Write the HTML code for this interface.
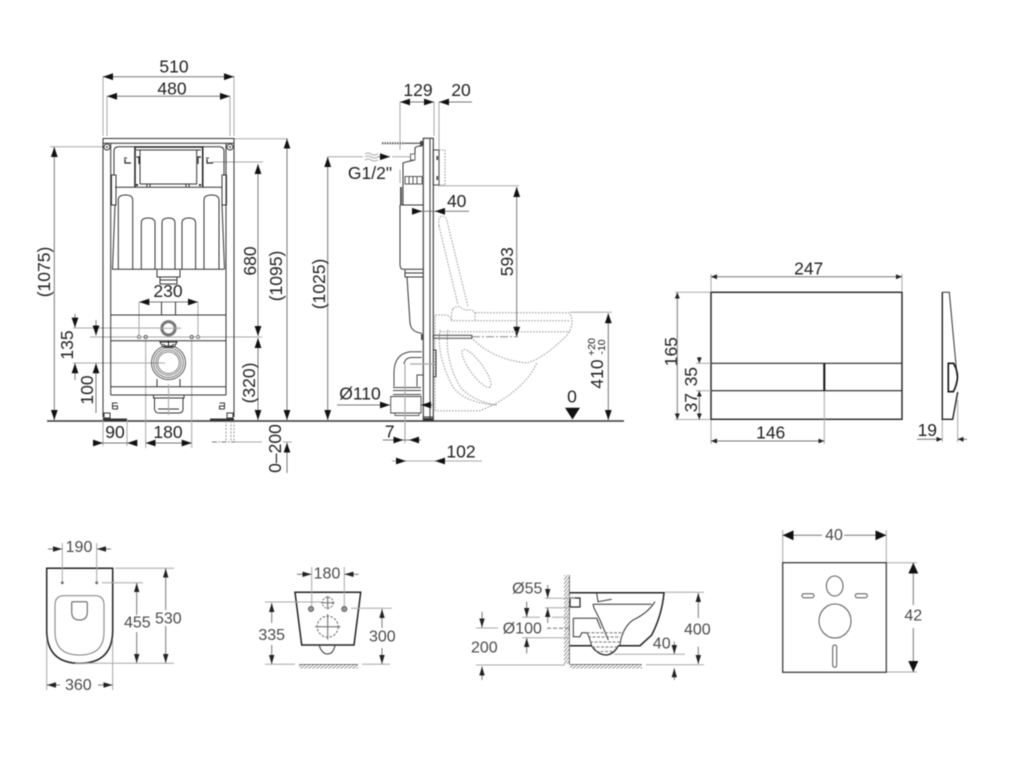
<!DOCTYPE html>
<html><head><meta charset="utf-8"><title>Installation diagram</title>
<style>
html,body{margin:0;padding:0;background:#fff;width:1024px;height:758px;overflow:hidden}
svg{display:block;filter:blur(.4px)}
text{font-family:"Liberation Sans",sans-serif;font-size:17.5px;fill:#222;text-anchor:middle}
.g text,text.g{fill:#4a4a4a;font-size:16px}
.e{stroke:#a8a8a8;stroke-width:1;fill:none}
.d{stroke:#777;stroke-width:1;fill:none}
.l{stroke:#333;stroke-width:1;fill:none}
.b{stroke:#1c1c1c;stroke-width:1.5;fill:none}
.f{stroke:#999;stroke-width:1;fill:none;stroke-dasharray:1.6 1.4}
.h{stroke:#999;stroke-width:1;fill:none;stroke-dasharray:2 1.5}
.m{stroke:#777;stroke-width:1;fill:none;marker-end:url(#a)}
.s{stroke:#777;stroke-width:1;fill:none;marker-end:url(#s)}
.n{stroke:#777;stroke-width:1;fill:none;marker-end:url(#n)}
.c{stroke:#777;stroke-width:1;fill:none;marker-end:url(#c)}
</style></head>
<body>
<svg width="1024" height="758" viewBox="0 0 1024 758" xmlns="http://www.w3.org/2000/svg">
<defs>
<marker id="a" markerUnits="userSpaceOnUse" markerWidth="10" markerHeight="8" refX="10" refY="4" orient="auto-start-reverse"><path d="M0 .6L10 4L0 7.4z" fill="#111"/></marker>
<marker id="s" markerUnits="userSpaceOnUse" markerWidth="6" markerHeight="6" refX="6" refY="3" orient="auto-start-reverse"><path d="M0 .5L6 3L0 5.5z" fill="#222"/></marker>
<marker id="n" markerUnits="userSpaceOnUse" markerWidth="9" markerHeight="6" refX="9" refY="3" orient="auto-start-reverse"><path d="M0 .3L9 3L0 5.7z" fill="#222"/></marker>
<marker id="c" markerUnits="userSpaceOnUse" markerWidth="11" markerHeight="10" refX="11" refY="5" orient="auto-start-reverse"><path d="M0 0L11 5L0 10z" fill="#111"/></marker>
<pattern id="hx" width="3" height="4" patternUnits="userSpaceOnUse"><path d="M3 0L0 4" stroke="#777" stroke-width=".8"/></pattern>
<pattern id="hy" width="4" height="3" patternUnits="userSpaceOnUse"><path d="M4 0L0 3" stroke="#777" stroke-width=".8"/></pattern>
</defs>
<rect width="1024" height="758" fill="#fff"/>

<!-- ground -->
<path d="M47 421H624" stroke="#333" stroke-width="1.4" fill="none"/>

<!-- FIG 1: frame front -->
<g>
<path class="e" d="M103 76V136M107 96V136M230 96V136M234 76V136"/>
<path class="m" d="M168 76.7H103"/><path class="m" d="M168 76.7H234"/>
<path class="m" d="M168 96.3H107"/><path class="m" d="M168 96.3H230"/>
<text x="174" y="72.7">510</text><text x="172" y="94.3">480</text>

<path class="e" d="M50 146.7H104M234 138.7H288M212 162H263M90 337H262M73 328H160M178 328H180M73 363H165"/>
<path class="m" d="M54.3 280V147"/><path class="m" d="M54.3 280V420"/>
<path class="m" d="M258 250V164"/><path class="m" d="M258 250V336"/><path class="m" d="M258 380V338"/><path class="m" d="M258 380V420"/>
<path class="m" d="M287 300V138.7"/><path class="m" d="M287 300V420"/>
<text transform="translate(50 272) rotate(-90)">(1075)</text>
<text transform="translate(256 261) rotate(-90)">680</text>
<text transform="translate(282 276) rotate(-90)">(1095)</text>
<text transform="translate(255 383) rotate(-90)">(320)</text>

<text x="168" y="297">230</text>
<path class="e" d="M139 302V337M198 302V337"/>
<path class="m" d="M168 302H139.3"/><path class="m" d="M168 302H198"/>

<path class="m" d="M75 314V327.6"/><path class="m" d="M75 380V363.3"/>
<path class="m" d="M96 320V335.5"/><path class="m" d="M96 413V363.3"/>
<text transform="translate(73 345) rotate(-90)">135</text>
<text transform="translate(93 390) rotate(-90)">100</text>

<path class="e" d="M103 414V446M127 420V446M145.7 340V448M191.7 340V448"/>
<path class="d" d="M103 443H127"/><path class="m" d="M93 443H103"/><path class="m" d="M137.3 443H127.3"/>
<path class="m" d="M168 443H145.7"/><path class="m" d="M168 443H191.7"/>
<text x="115" y="438">90</text><text x="168" y="438">180</text>

<path class="h" d="M226 421V442M231 421V442M234 421V442"/>
<path stroke="#777" fill="none" stroke-dasharray="5 1.5 1.5 1.5" d="M212 442H235"/>
<path class="e" d="M235 442H262M283 442H292"/>
<path class="m" d="M287 473V442.7"/>
<text transform="translate(281 448.5) rotate(-90)">0–200</text>

<!-- frame -->
<path class="l" d="M103 417V138.5H234V417M110.7 395V143.3M226 395V143.3M103 143.3H234"/>
<path class="l" d="M104 413H110V418H104zM227 413H233V418H227z"/>
<path stroke="#333" stroke-width="2" fill="none" d="M103 419.5H127M210 419.5H234"/>
<path class="l" d="M112.5 409V403H117.5M112.5 406H117.5V409H112.5M224.5 409V403H219.5M224.5 406H219.5V409H224.5"/>
<circle cx="107" cy="147" r="3" class="l"/><circle cx="107" cy="147" r="1" fill="#444"/>
<circle cx="230" cy="147" r="3" class="l"/><circle cx="230" cy="147" r="1" fill="#444"/>
<path class="l" d="M114 175V151Q114 146.7 119 146.7H135M202.7 146.7H219Q224 146.7 224 151V175"/>
<path class="b" d="M135 187V147H202.7V187"/>
<path class="l" d="M140 184V150H196.7V184H140M135 187.3H202.7M115 187.3H222M136 150H201"/>
<path class="l" d="M111.5 175H116V205H111.5zM222 175H226.5V205H222z"/>
<path stroke="#222" fill="none" stroke-width="1.2" d="M125 159V163H131M207 159V163H213M136.5 157H139V164M201 157H198V164"/>
<path class="l" d="M124 158H127M206 158H209"/>
<rect x="136" y="184" width="2" height="2" fill="#222"/><rect x="199" y="184" width="2" height="2" fill="#222"/>
<path class="l" d="M147 184V187M150 184V187M186 184V187M189 184V187"/>
<path class="l" d="M112.5 269.3L115 205M224.5 269.3L222 205M112 269.3H224.5"/>
<path class="l" d="M118.3 269.3V200Q118.3 195 125.5 195Q132.7 195 132.7 200V269.3M204 269.3V200Q204 195 211.5 195Q219 195 219 200V269.3"/>
<path class="l" d="M141.3 269.3V223Q141.3 218 148 218Q155 218 155 223V269.3M162 269.3V223Q162 218 168.5 218Q175 218 175 223V269.3M182 269.3V223Q182 218 188.8 218Q195.6 218 195.6 223V269.3"/>
<path class="l" d="M157 270V277H180V270M160 277V284H177V277M160 280H177"/>
<path class="l" d="M161.5 302V315M175.5 302V315M110.7 315H226M110.7 340.7H226"/>
<path stroke="#333" fill="none" d="M110.7 386.7H226M110.7 395H226"/>
<circle cx="168.5" cy="328.3" r="6.7" fill="none" stroke="#777" stroke-width="3"/>
<path class="e" d="M160 328.3H181"/>
<circle cx="139" cy="337" r="1.5" fill="#fff" stroke="#777"/><circle cx="145.7" cy="337" r="1.5" fill="#fff" stroke="#555"/>
<circle cx="191.7" cy="337" r="1.5" fill="#fff" stroke="#555"/><circle cx="198" cy="337" r="1.5" fill="#fff" stroke="#777"/>
<path stroke="#222" fill="none" d="M160 342H177L174 347H163zM163 344L167 347M174 344L170 347M168.5 341V347"/>
<circle cx="168.5" cy="362.7" r="17" fill="none" stroke="#444" stroke-width=".9"/>
<circle cx="168.5" cy="362.7" r="14.8" fill="none" stroke="#666" stroke-width=".9"/>
<circle cx="168.5" cy="362.7" r="12.6" fill="none" stroke="#777" stroke-width=".9"/>
<circle cx="168.5" cy="362.7" r="10.8" fill="none" stroke="#777" stroke-width=".9"/>
<path class="l" d="M157 379V386.7M180 379V386.7"/>
<rect x="153.5" y="395" width="30.5" height="3" fill="none" stroke="#333"/>
<path class="l" d="M154.5 398V409Q155 413 159 413H179Q183 413 183 409V398M158 409H179"/>
<path class="e" d="M168.5 384V415"/>
</g>

<!-- FIG 2: side view -->
<g>
<text x="418" y="96">129</text><text x="461" y="96">20</text>
<path class="e" d="M400 102V150M400 170V183M434 102V136M439 102V150"/>
<path class="m" d="M418 102H400"/><path class="m" d="M418 102H434"/><path class="m" d="M472 102H439"/>
<path stroke="#555" fill="none" stroke-width="2" stroke-dasharray="1.5 1" d="M382 143.3H404"/>
<path class="l" d="M404 143.3H423"/>
<rect x="420" y="141" width="3" height="5" fill="#444"/>
<text x="370" y="179">G1/2"</text>
<path class="e" d="M327.3 156.7H363M392 156.7H410M365 154Q368 152 371 154T378 154M365 157Q368 155 371 157T378 157M365 160Q368 158 371 160T378 160"/>
<path class="m" d="M378 156.7H390"/>
<path class="m" d="M327.7 300V157"/><path class="m" d="M327.7 300V420"/>
<text transform="translate(325 284) rotate(-90)">(1025)</text>

<rect x="423.3" y="138.3" width="10" height="282" fill="none" stroke="#333" stroke-width="1.1"/>
<path class="l" d="M430 139V420M423 417H433"/>
<rect x="423" y="418" width="10" height="2.5" fill="#333"/>
<path class="l" d="M421.7 146Q416 146 415 148V160L407 161.7L403 163V205M400 205V264Q400 269.3 403 269.3H423M400 205H423"/>
<path stroke="#666" fill="none" d="M410.5 154H415V160H410.5z"/>
<path stroke="#555" fill="none" d="M405 176.5H422V184H405zM409 176.5V184M413 176.5V184M417 176.5V184"/>
<rect x="400" y="187" width="2" height="18" fill="#555"/>
<rect x="433.3" y="150" width="5.7" height="35" fill="none" stroke="#444"/>
<rect x="436.5" y="156" width="1.5" height="4" fill="#333"/><rect x="436.5" y="176" width="1.5" height="4" fill="#333"/>
<path class="f" d="M439 150H445V185H439"/>
<path class="e" d="M438 185.7H519"/>
<path class="m" d="M516.7 260V187"/><path class="m" d="M516.7 260V336.7"/>
<text transform="translate(513 261.7) rotate(-90)">593</text>
<text x="456.7" y="207">40</text>
<path class="d" d="M412 211.3H469"/><path class="m" d="M412.5 211.3H422"/><path class="m" d="M444 211.3H435"/>

<!-- toilet dashed -->
<path class="f" d="M439 226Q438 217 441.7 216Q446 216 447 221L468 306.7M439 226L458 305M453 309Q455 306 460 306.7Q465 311 467 310Q472 309 475 312.7M451.7 320Q451 312 453 308"/>
<path class="f" d="M475 312.7H568Q572 314 572 322Q572 328 567 335Q546 357 527 363Q497 360 477 343Q471 338 471.7 336.7"/>
<path class="f" d="M435 410.7V315H447Q451 317 451.7 320.7H570M440 331.7H570M475 312.7V320"/>
<path class="f" d="M536.7 363.3Q525 388 493 405L480 410.7H435M440 330Q436 355 453 387Q465 403 496.7 405M448 330Q444 358 460 386.7Q472 401 496.7 405"/>
<ellipse cx="476.5" cy="368.5" rx="23" ry="6.5" transform="rotate(54 476.5 368.5)" class="f"/>
<rect x="433.3" y="335.3" width="38.5" height="3" fill="none" stroke="#444"/>
<path stroke="#888" fill="none" stroke-dasharray="8 2 2 2" d="M472 336.7H518"/>

<!-- pipes -->
<path class="l" d="M405 270V277H423M405 273H423M407 277L410 323Q411 332 421.7 333.3"/>
<rect x="421" y="334" width="2.5" height="6" fill="#444"/>
<path stroke="#444" fill="none" d="M421.7 351.7H410Q394 354 394 373V386.5M421.7 357.5H411Q405 358 404 364M423 375H417V386.5"/>
<path stroke="#444" fill="none" stroke-width=".9" d="M393 387.5H421M393 390.5H421M393 394.5H421"/>
<path stroke="#444" fill="#fff" stroke-width=".9" d="M390.7 396.5H421V413H390.7z"/>
<path stroke="#555" fill="none" stroke-width=".9" d="M395 413V415.5H419V413"/>
<path class="l" d="M433.3 350H436V376.7H433.3"/>
<path stroke="#aaa" fill="none" stroke-width="1.2" d="M410 364H435M405 364V443"/>
<text x="360" y="399.3">Ø110</text>
<path class="m" d="M337 405H390"/><path class="m" d="M433 405H421"/>
<text x="389.7" y="437.7">7</text>
<path class="d" d="M382.7 440H421"/><path class="m" d="M392 440H403.3"/><path class="m" d="M421 440H409"/>
<text x="461" y="457.3">102</text>
<path class="e" d="M392 461H482"/><path class="m" d="M396 461H406"/><path class="m" d="M444 461H435"/>
<text x="572" y="402.7">0</text>
<path d="M565 407.7H580L572.5 419.5z" fill="#111"/>
<path class="e" d="M570 312.3H612"/>
<path class="m" d="M608.3 350V313.3"/><path class="m" d="M608.3 350V420"/>
<text transform="translate(603 374) rotate(-90)">410</text>
<text transform="translate(595 347) rotate(-90)" style="font-size:10.5px">+20</text>
<text transform="translate(605 347) rotate(-90)" style="font-size:10.5px">-10</text>
</g>

<!-- FIG 3: plate -->
<g>
<rect x="711" y="292.3" width="191" height="127" fill="none" stroke="#222" stroke-width="1.4"/>
<path stroke="#222" stroke-width="1.2" fill="none" d="M711 363.3H902M711 390.7H902"/>
<path stroke="#111" stroke-width="2" fill="none" d="M824.3 363.3V390.7"/>
<text x="808.7" y="274.3">247</text><text x="770.7" y="438.3">146</text><text x="927.3" y="436">19</text>
<text transform="translate(677 351.7) rotate(-90)">165</text>
<text transform="translate(697 376.7) rotate(-90)">35</text>
<text transform="translate(697 402.7) rotate(-90)">37</text>
<path class="e" d="M711 274V291M902 274V291M675 292.3H710M675 419.5H710M696 363.3H711M696 390.7H711M711 420V444M824.3 391V444M942.3 420V442M957.7 400V442"/>
<path class="s" d="M800 276.7H711"/><path class="s" d="M800 276.7H902"/>
<path class="s" d="M677.3 350V292.5"/><path class="s" d="M677.3 350V419.5"/>
<path class="s" d="M699.3 356.5V363.3"/><path class="s" d="M699.3 410V390.7"/><path class="s" d="M699.3 400V419.5"/>
<path class="s" d="M770 441H711"/><path class="s" d="M770 441H824.3"/>
<path class="s" d="M917 439.3H942.3"/><path class="s" d="M967 439.3H957.7"/>
<path class="l" d="M942.3 292.3H949.3Q952 320 957 376"/>
<path stroke="#222" stroke-width="1.4" fill="none" d="M942.3 292.3V419.3H952.7L957.7 392"/>
<path stroke="#111" stroke-width="1.6" fill="none" d="M948.3 363.3H953.5Q957.5 370 957.5 377Q957 385 953.3 391.7H948.3z"/>
</g>

<!-- FIG 4: toilet top -->
<g class="g">
<path stroke="#222" stroke-width="1.5" fill="none" d="M46.7 568.3H112.7V630Q112.7 663.3 79.7 663.3Q46.7 663.3 46.7 630z"/>
<path stroke="#888" stroke-width="1.1" fill="none" d="M55 605Q55 595.7 64 595.7H95Q104 595.7 104 605V632Q104 655 79.5 655Q55 655 55 632z"/>
<path stroke="#555" fill="none" d="M71.7 603Q71.7 601.7 73 601.7H86Q87.3 601.7 87.3 603V612Q87.3 620 79.5 620Q71.7 620 71.7 612z"/>
<circle cx="62.3" cy="582.7" r="1.4" fill="#666"/><circle cx="96.7" cy="582.7" r="1.4" fill="#666"/>
<path class="e" d="M62.3 543V582M96.7 543V582M102 582.7H143M115 568.3H174M75 663.3H174M46.7 640V690M112.7 640V690"/>
<text x="79" y="552">190</text><text x="137.3" y="627.3">455</text><text x="168.3" y="623.3">530</text><text x="78.3" y="690">360</text>
<path class="n" d="M48 549H62"/><path class="n" d="M111 549H97"/>
<path class="n" d="M136.7 615V583"/><path class="n" d="M136.7 632V663"/>
<path class="n" d="M165.7 610V568.5"/><path class="n" d="M165.7 626V663"/>
<path class="n" d="M60 685H47"/><path class="n" d="M98 685H112.5"/>
</g>

<!-- FIG 5: toilet front -->
<g class="g">
<path stroke="#222" stroke-width="1.5" fill="none" d="M295 592.3H360.7L354 645H301.7z"/>
<path class="l" d="M319.3 645.7Q322 654 327.5 654Q333 654 335 645.7"/>
<circle cx="327.7" cy="602.7" r="5.5" fill="none" stroke="#666" stroke-dasharray="2 1.3"/>
<path stroke="#666" fill="none" d="M327.7 596V609.5M321 602.7H334.5"/>
<circle cx="327.7" cy="626.7" r="10.5" fill="none" stroke="#666" stroke-dasharray="2.5 1.5"/>
<path stroke="#666" fill="none" d="M327.7 614V639.5M315 626.7H340.5"/>
<circle cx="311" cy="609" r="2.5" fill="#999" stroke="#555"/><circle cx="344.3" cy="609" r="2.5" fill="#999" stroke="#555"/>
<path class="e" d="M311.7 567V606M344.3 567V606M265 602H321M351 608.3H392M265 664.3H295M362 664.3H390"/>
<rect x="299" y="665" width="59" height="3.5" fill="url(#hy)"/><path class="d" d="M299 664.5H358"/>
<text x="327" y="578.3">180</text><text x="271.7" y="640">335</text><text x="382.3" y="641.7">300</text>
<path class="n" d="M297 574.3H311.5"/><path class="n" d="M358.7 574.3H344.5"/>
<path class="n" d="M271.7 623V603"/><path class="n" d="M271.7 645V664"/>
<path class="n" d="M382 628V609"/><path class="n" d="M382 648V664"/>
</g>

<!-- FIG 6: toilet section -->
<g class="g">
<rect x="564" y="575" width="5" height="89" fill="url(#hx)"/>
<path class="d" d="M569.5 575V664.3"/>
<rect x="570" y="665" width="72" height="3.5" fill="url(#hy)"/><path class="d" d="M569.5 664.5H641.7"/>
<path stroke="#222" stroke-width="1.5" fill="none" d="M569.5 592.7H664Q662 615 651.7 635L640 645.7H618.3M570 645.7H591.5"/>
<path stroke="#222" stroke-width="1.3" fill="none" d="M591.5 645.7Q598 655 606.7 655Q614 654 618.3 645.7"/>
<path class="l" d="M655 601.7Q648 613 633 620Q622 628 620 645M593 604.3H651.7M593 604.3L594 608L600 620L608.3 640M573.3 618.3H596.7L601 629M573.3 618.3V636.7H580L581.7 632.7H586.7Q589 635 591.5 645.7"/>
<path stroke="#222" stroke-width="1.2" fill="none" d="M570 598H580V607H570z"/>
<path class="l" d="M596.7 593.3L598 601.7L611.7 599.3"/>
<path stroke="#777" fill="none" stroke-dasharray="3 1.5" d="M587 632.8H622M588 637H620M590 642H620M592 647H618M596 651.5H614"/>
<text x="527.3" y="593.3">Ø55</text><text x="522.3" y="633.3">Ø100</text><text x="484.3" y="652.3">200</text><text x="697.3" y="634.3">400</text><text x="661.7" y="648.3">40</text>
<path class="e" d="M545 598.3H575M545 607.7H570M522 617.3H540M552 617.3H570M522 637.7H570M476 628H498M476 665H565M614 654.3H685M665 592.3H704M646 664.7H704"/>
<path class="n" d="M547.7 585V598"/><path class="n" d="M547.7 623V608"/>
<path class="n" d="M526.7 601.7V617"/><path class="n" d="M526.7 653.3V638"/>
<path class="n" d="M482 611.7V627.5"/><path class="n" d="M482 680V666.5"/>
<path class="n" d="M698.3 618V593"/><path class="n" d="M698.3 646.7V664"/>
<path class="n" d="M674.3 641.7V654"/><path class="n" d="M674.3 680V668.3"/>
<path stroke="#777" fill="none" stroke-dasharray="4 2" d="M547 628.3H570"/>
</g>

<!-- FIG 7: mat -->
<g class="g">
<rect x="782.7" y="562.7" width="103.6" height="109.6" fill="none" stroke="#3c3c3c" stroke-width="1.3"/>
<ellipse cx="834.7" cy="586" rx="8.3" ry="10" fill="none" stroke="#555"/>
<ellipse cx="835" cy="621" rx="16" ry="17" fill="none" stroke="#555"/>
<rect x="802" y="593.7" width="12" height="4" rx="2" fill="none" stroke="#555"/>
<rect x="855.3" y="593.7" width="12" height="4" rx="2" fill="none" stroke="#555"/>
<rect x="832.7" y="645" width="4" height="22.3" rx="2" fill="none" stroke="#555"/>
<path class="e" d="M782.7 530V562M886.3 530V562M887 562.7H917M887 672H917"/>
<text x="834" y="540">40</text><text x="913.3" y="620.7">42</text>
<path class="c" d="M822 535.3H782.7"/><path class="c" d="M844 535.3H886.3"/>
<path class="c" d="M913.3 605V562.7"/><path class="c" d="M913.3 628V672"/>
</g>
</svg>
</body></html>
